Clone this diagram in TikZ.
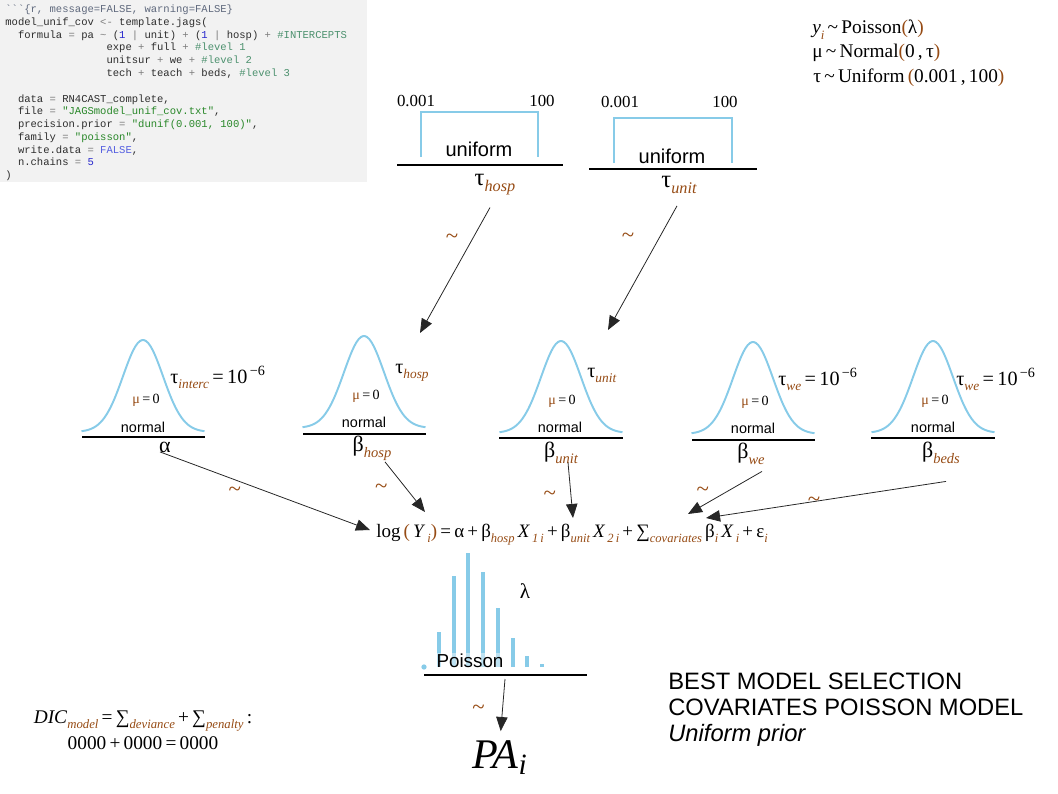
\documentclass[tikz,border=0pt]{standalone}
\usepackage{fontspec}
\setmainfont{Liberation Serif}
\setsansfont{Liberation Sans}
\setmonofont{Liberation Mono}
\usepackage{graphicx}
\usepackage{tikz}
\usetikzlibrary{arrows.meta,positioning}

\definecolor{skyline}{RGB}{135,203,232}
\definecolor{eqbrown}{RGB}{150,75,20}
\definecolor{codebg}{RGB}{242,242,242}
\definecolor{rtext}{RGB}{45,45,45}
\definecolor{rhead}{RGB}{95,105,125}
\definecolor{roperator}{RGB}{125,125,125}
\definecolor{rcomment}{RGB}{76,145,110}
\definecolor{rstring}{RGB}{40,135,40}
\definecolor{rnumber}{RGB}{40,40,205}
\definecolor{rlogical}{RGB}{85,95,225}

\newcommand{\lowsub}[1]{\raisebox{-0.28em}{\scalebox{0.66}{\textcolor{eqbrown}{\itshape #1}}}}
\newcommand{\bp}[1]{\textcolor{eqbrown}{#1}}
\newcommand{\cmt}[1]{\textcolor{rcomment}{#1}}
\newcommand{\rstr}[1]{\textcolor{rstring}{#1}}
\newcommand{\rnum}[1]{\textcolor{rnumber}{#1}}
\newcommand{\rop}[1]{\textcolor{roperator}{#1}}
\newcommand{\rlog}[1]{\textcolor{rlogical}{#1}}
\newcommand{\bellcurve}[2]{\draw[bell] plot[domain=-61.5:61.5,samples=60,smooth] ({#1+\x},{#2-92*exp(-\x*\x/800)});}

\begin{document}
\begin{tikzpicture}[x=0.02cm,y=-0.02cm,>={Triangle[length=8pt,width=6.5pt]},
  lbl/.style={inner sep=0pt,anchor=base},
  code/.style={inner sep=0pt,anchor=north west,align=left,text=rtext,font=\ttfamily\fontsize{6}{7.28}\selectfont},
  prior/.style={lbl,anchor=base west,font=\fontsize{11}{13}\selectfont},
  bound/.style={lbl,font=\fontsize{9.6}{11}\selectfont},
  dname/.style={lbl,font=\sffamily\fontsize{11.4}{13}\selectfont},
  nname/.style={lbl,font=\sffamily\fontsize{8.2}{10}\selectfont},
  mean/.style={lbl,font=\fontsize{8}{10}\selectfont},
  prec/.style={lbl,anchor=base west,font=\fontsize{11.5}{13}\selectfont},
  param/.style={lbl,font=\fontsize{12.5}{14}\selectfont},
  bigtau/.style={lbl,font=\fontsize{14}{16}\selectfont},
  tl/.style={text=eqbrown,font=\fontsize{13}{14}\selectfont,inner sep=0pt},
  unif/.style={draw=skyline,line width=1.1pt},
  bell/.style={draw=skyline,line width=1.1pt},
  bar/.style={draw=skyline,line width=2.8pt},
  axis/.style={draw=black,line width=0.6pt},
  link/.style={black!85,line width=0.45pt}]
  \useasboundingbox (0,0) rectangle (1058,794);

  % R chunk
  \fill[codebg] (0,0) rectangle (367,182);
  \node[code] (rcode) at (5,4.5) {%
    \textcolor{rhead}{\textasciigrave\textasciigrave\textasciigrave\{r, message=FALSE, warning=FALSE\}}\\
    model\_unif\_cov \rop{<-} template.jags(\\
    \hspace*{1.2em}formula \rop{=} pa \rop{\textasciitilde} (\rnum{1} \rop{|} unit) \rop{+} (\rnum{1} \rop{|} hosp) \rop{+} \cmt{\#INTERCEPTS}\\
    \hspace*{9.6em}expe \rop{+} full \rop{+} \cmt{\#level 1}\\
    \hspace*{9.6em}unitsur \rop{+} we \rop{+} \cmt{\#level 2}\\
    \hspace*{9.6em}tech \rop{+} teach \rop{+} beds, \cmt{\#level 3}\\
    \mbox{}\\
    \hspace*{1.2em}data \rop{=} RN4CAST\_complete,\\
    \hspace*{1.2em}file \rop{=} \rstr{"JAGSmodel\_unif\_cov.txt"},\\
    \hspace*{1.2em}precision.prior \rop{=} \rstr{"dunif(0.001, 100)"},\\
    \hspace*{1.2em}family \rop{=} \rstr{"poisson"},\\
    \hspace*{1.2em}write.data \rop{=} \rlog{FALSE},\\
    \hspace*{1.2em}n.chains \rop{=} \rnum{5}\\
    )};

  % model summary
  \node[prior] (lik) at (812,34) {\textit{y}\lowsub{i}\,\textasciitilde\,Poisson\bp{(}λ\bp{)}};
  \node[prior] (mu) at (812,58) {μ\,\textasciitilde\,Normal\bp{(}0\,,\,τ\bp{)}};
  \node[prior] (tau) at (813,83) {τ\,\textasciitilde\,Uniform\,\bp{(}0.001\,,\,100\bp{)}};

  % uniform priors
  \draw[unif] (421,157) |- (538,112) -- (538,157);
  \draw[axis] (397,165) -- (563,165);
  \node[bound] (low1) at (416,107) {0.001};
  \node[bound] (up1) at (542,107) {100};
  \node[dname] (unif1) at (479,156) {uniform};
  \node[bigtau] (thosp) at (495,185) {τ\lowsub{hosp}};

  \draw[unif] (614,163) |- (732,118) -- (732,163);
  \draw[axis] (589,169) -- (757,169);
  \node[bound] (low2) at (620,108) {0.001};
  \node[bound] (up2) at (725,108) {100};
  \node[dname] (unif2) at (672,163) {uniform};
  \node[bigtau] (tunit) at (679,187) {τ\lowsub{unit}};

  % normal priors
  \bellcurve{143}{432}
  \draw[axis] (82,437) -- (205,437);
  \node[nname] (norm1) at (143,432) {normal};
  \node[mean] (mu1) at (146,403) {\bp{μ}\,=\,0};
  \node[prec] (prec1) at (170,383) {τ\lowsub{interc}\,=\,10\textsuperscript{\,−6}};
  \node[param] (alpha) at (165,452) {α};

  \bellcurve{364}{428}
  \draw[axis] (303,434) -- (426,434);
  \node[nname] (norm2) at (364,427) {normal};
  \node[mean] (mu2) at (366,399) {\bp{μ}\,=\,0};
  \node[prec] (prec2) at (395,373) {τ\lowsub{hosp}};
  \node[param] (bhosp) at (372,451) {β\lowsub{hosp}};

  \bellcurve{561}{433}
  \draw[axis] (499,438) -- (623,438);
  \node[nname] (norm3) at (560,432) {normal};
  \node[mean] (mu3) at (562,404) {\bp{μ}\,=\,0};
  \node[prec] (prec3) at (587,377) {τ\lowsub{unit}};
  \node[param] (bunit) at (561,457) {β\lowsub{unit}};

  \bellcurve{753}{434}
  \draw[axis] (692,440) -- (815,440);
  \node[nname] (norm4) at (753,433) {normal};
  \node[mean] (mu4) at (755,405) {\bp{μ}\,=\,0};
  \node[prec] (prec4) at (778,385) {τ\lowsub{we}\,=\,10\textsuperscript{\,−6}};
  \node[param] (bwe) at (751,458) {β\lowsub{we}};

  \bellcurve{933}{433}
  \draw[axis] (871,438) -- (995,438);
  \node[nname] (norm5) at (933,432) {normal};
  \node[mean] (mu5) at (935,404) {\bp{μ}\,=\,0};
  \node[prec] (prec5) at (956,385) {τ\lowsub{we}\,=\,10\textsuperscript{\,−6}};
  \node[param] (bbeds) at (941,457) {β\lowsub{beds}};

  % linear predictor
  \node[lbl,font=\fontsize{10.8}{13}\selectfont] (model) at (572,537) {log\,\bp{(}\,\textit{Y}\lowsub{\,i}\bp{)}\,=\,α\,+\,β\lowsub{hosp}\,\textit{X}\lowsub{\,1\,i}\,+\,β\lowsub{unit}\,\textit{X}\lowsub{\,2\,i}\,+\,∑\lowsub{covariates}\,β\lowsub{i}\,\textit{X}\lowsub{\,i}\,+\,ε\lowsub{i}};

  % poisson likelihood
  \foreach \bx/\by in {439/632,454/576,468/553,483/572,498/608,513/638,527/656,542/664,556/667}
    \draw[bar] (\bx,667) -- (\bx,\by);
  \fill[skyline] (424,667) circle (1.5pt);
  \draw[axis] (424,675) -- (587,675);
  \node[lbl,font=\sffamily\fontsize{10.7}{12}\selectfont,fill=white,fill opacity=.45,text opacity=1] (pois) at (470,667) {Poisson};
  \node[lbl,font=\fontsize{12}{14}\selectfont] (lambda) at (525,598) {λ};
  \node[lbl,font=\itshape\fontsize{24}{28}\selectfont] (PA) at (500,768) {PA\textsubscript{i}};
  \coordinate (poisStart) at (505,679);

  % fit and title
  \node[lbl,align=center,font=\fontsize{11}{14.7}\selectfont] (dic) at (143,749) {\textit{DIC}\lowsub{model}\,=\,∑\lowsub{deviance}\,+\,∑\lowsub{penalty}\,:\\0000\,+\,0000\,=\,0000};
  \node[lbl,anchor=base west,align=left,font=\sffamily\fontsize{13.5}{14.75}\selectfont] (title) at (668,741) {BEST MODEL SELECTION\\COVARIATES POISSON MODEL\\\textit{Uniform prior}};

  % arrow tips
  \coordinate (tipTh) at (420,333);
  \coordinate (tipTu) at (608,330);
  \coordinate (tipA) at (370,530);
  \coordinate (tipBh) at (425,512);
  \coordinate (tipBu) at (573,518);
  \coordinate (tipBw) at (688,514);
  \coordinate (tipBb) at (706,518);

  \path[->,link]
  ([shift={(-5,23)}]thosp.center) edge node[tl,pos=.25,xshift=-11.6pt] {\textasciitilde} (tipTh)
  ([shift={(-2,21)}]tunit.center) edge node[tl,pos=.26,xshift=-17.6pt] {\textasciitilde} (tipTu)
  ([shift={(-5,5)}]alpha.center) edge node[tl,pos=.38,xshift=-2.8pt,yshift=-6pt] {\textasciitilde} (tipA)
  ([shift={(13,14)}]bhosp.center) edge node[tl,pos=.3,xshift=-9pt,yshift=-6.8pt] {\textasciitilde} (tipBh)
  ([shift={(7,10)}]bunit.center) edge node[tl,pos=.6,xshift=-12pt] {\textasciitilde} (tipBu)
  ([shift={(11,18)}]bwe.center) edge node[tl,pos=.72,xshift=-3.4pt,yshift=5.7pt] {\textasciitilde} (tipBw)
  ([shift={(5,29)}]bbeds.center) edge node[tl,pos=.55] {\textasciitilde} (tipBb)
  (poisStart) edge[shorten >=5pt] node[tl,pos=.5,xshift=-13.6pt] {\textasciitilde} (PA.north);
\end{tikzpicture}
\end{document}
